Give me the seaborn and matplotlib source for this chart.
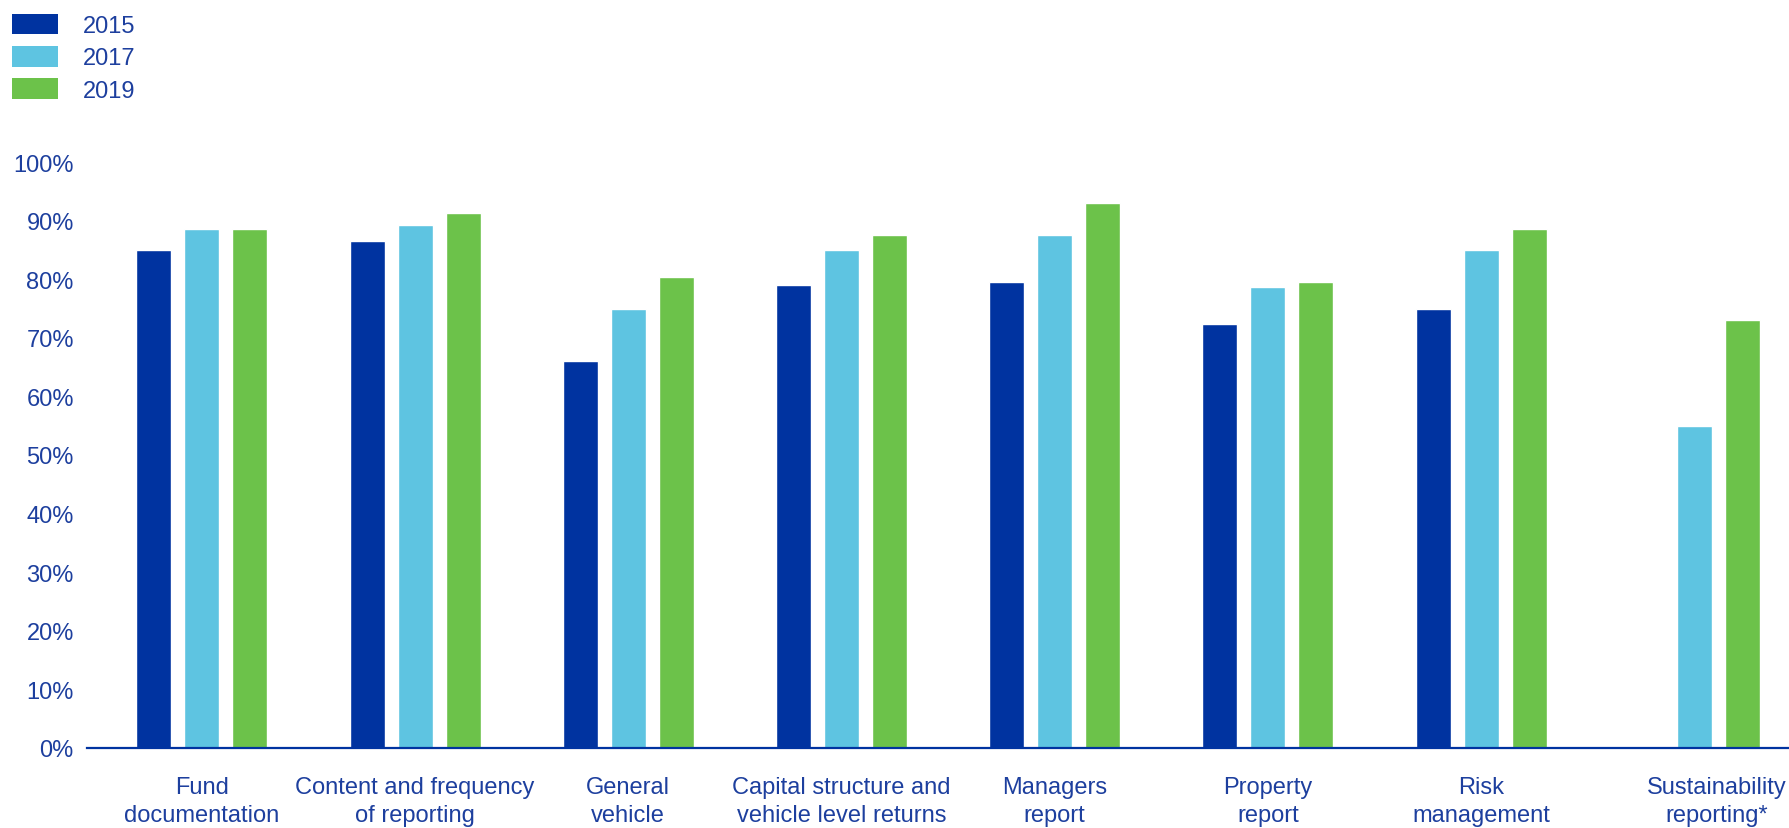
import numpy as np
import pandas as pd
import matplotlib
matplotlib.use("Agg")
import matplotlib.pyplot as plt
import matplotlib.transforms as mtransforms
from matplotlib.patches import Patch
import seaborn as sns

categories = [
    "Fund\ndocumentation",
    "Content and frequency\nof reporting",
    "General\nvehicle",
    "Capital structure and\nvehicle level returns",
    "Managers\nreport",
    "Property\nreport",
    "Risk\nmanagement",
    "Sustainability\nreporting*",
]
years = ["2015", "2017", "2019"]
values_2015 = [85.0, 86.5, 66.0, 79.0, 79.5, 72.3, 75.0, np.nan]
values_2017 = [88.5, 89.3, 75.0, 85.0, 87.6, 78.7, 85.0, 55.0]
values_2019 = [88.5, 91.3, 80.3, 87.6, 93.0, 79.5, 88.5, 73.0]
y_ticks = [0, 10, 20, 30, 40, 50, 60, 70, 80, 90, 100]
y_tick_labels = [f"{t}%" for t in y_ticks]

colors = ["#0033A0", "#5EC4E1", "#6CC24A"]
text_color = "#1d3f9e"

df = pd.DataFrame({
    "category": categories * 3,
    "year": [years[0]] * 8 + [years[1]] * 8 + [years[2]] * 8,
    "value": values_2015 + values_2017 + values_2019,
})

sns.set_theme(style="white")
plt.rcParams["font.family"] = ["Liberation Sans", "DejaVu Sans"]

fig = plt.figure(figsize=(17.89, 8.29), dpi=100)
ax = fig.add_axes([87 / 1789, 80 / 829, 1 - 87 / 1789, (749 - 163) / 829])

sns.barplot(
    data=df, x="category", y="value", hue="year", order=categories,
    hue_order=years, palette=colors, width=0.675, gap=0.27,
    saturation=1, legend=False, ax=ax, errorbar=None,
)

ax.set_xlim(-0.539, 7.444)
ax.set_ylim(0, 100)
ax.set_yticks(y_ticks)
ax.set_yticklabels(y_tick_labels)
ax.set_xlabel("")
ax.set_ylabel("")
for s in ["top", "right", "left"]:
    ax.spines[s].set_visible(False)
ax.spines["bottom"].set_color("#0033A0")
ax.spines["bottom"].set_linewidth(1.6)
ax.spines["bottom"].set_zorder(5)
ax.tick_params(axis="y", length=0, pad=9.5, labelsize=17, labelcolor=text_color)
ax.tick_params(axis="x", length=0, pad=20.5, labelsize=17, labelcolor=text_color)
for lbl in ax.get_xticklabels():
    lbl.set_linespacing(1.32)
last = ax.get_xticklabels()[-1]
last.set_transform(last.get_transform() + mtransforms.ScaledTranslation(0.22, 0, fig.dpi_scale_trans))

handles = [Patch(facecolor=c, edgecolor="none") for c in colors]
fig.legend(
    handles, years, loc="upper left", bbox_to_anchor=(12 / 1789, 1 - 14.5 / 829),
    frameon=False, fontsize=17, labelcolor=text_color,
    handlelength=1.95, handleheight=0.97, handletextpad=1.05,
    labelspacing=0.38, borderpad=0, borderaxespad=0,
)

fig.savefig("out.png", dpi=100, facecolor="white")
